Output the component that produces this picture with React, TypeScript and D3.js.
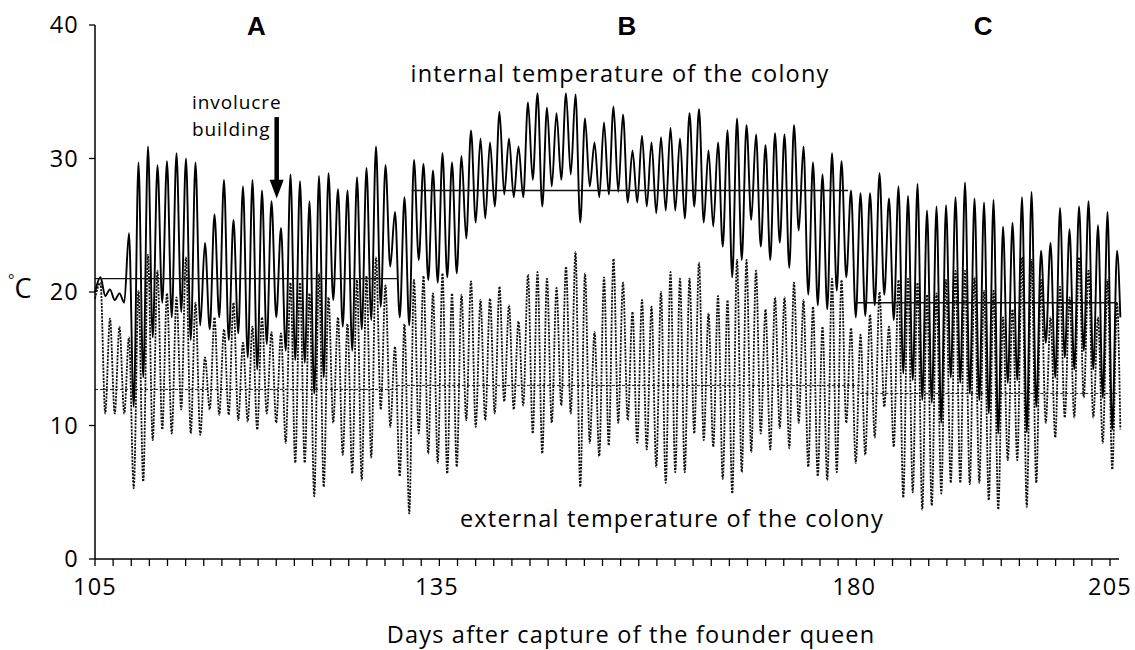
import React from 'react';
import * as d3 from 'd3';

// Daily maxima / minima (one value per cycle)
const internalPeaks = [
  21.1, 20.2, 19.9, 24.4, 29.7, 30.9, 29.5, 29.8, 30.4, 30.0,
  29.7, 23.7, 25.8, 28.4, 25.4, 27.9, 28.4, 27.6, 26.8, 24.8,
  28.8, 28.3, 26.8, 28.7, 28.9, 27.7, 27.6, 28.6, 29.3, 30.9,
  29.5, 26.0, 27.1, 29.9, 29.6, 29.1, 30.4, 29.7, 30.2, 32.1,
  31.5, 31.2, 33.5, 31.5, 30.9, 34.2, 34.9, 33.8, 33.4, 34.9,
  34.8, 33.0, 31.2, 32.7, 33.9, 33.3, 30.6, 31.7, 31.2, 31.6,
  32.3, 31.5, 33.4, 33.7, 30.6, 31.2, 32.1, 33.0, 32.5, 31.8,
  31.0, 31.9, 31.8, 32.5, 30.9, 29.7, 28.8, 30.4, 29.8, 27.6,
  27.4, 27.4, 28.9, 27.0, 27.9, 27.2, 28.1, 26.1, 26.4, 26.5,
  27.1, 28.2, 27.0, 26.7, 26.9, 24.9, 25.2, 27.1, 27.5, 23.1,
  23.7, 26.3, 24.7, 26.4, 26.8, 25.0, 26.0, 23.1
];
const internalTroughs = [
  19.7, 19.4, 19.2, 11.4, 13.6, 16.6, 19.2, 18.1, 18.5, 16.4,
  17.5, 17.2, 18.1, 16.4, 16.9, 15.1, 14.2, 16.1, 18.1, 15.6,
  14.9, 14.7, 12.4, 13.6, 19.4, 17.4, 15.6, 17.2, 17.9, 18.9,
  21.9, 18.1, 17.5, 22.4, 20.9, 20.7, 21.1, 21.4, 24.0, 25.2,
  25.5, 26.4, 27.3, 27.1, 27.1, 28.4, 26.4, 27.9, 28.4, 28.8,
  25.2, 27.9, 27.1, 27.3, 27.5, 26.7, 26.7, 26.4, 25.9, 26.1,
  26.1, 25.5, 26.4, 25.2, 24.9, 23.4, 21.1, 22.4, 25.4, 23.4,
  22.4, 23.7, 21.8, 24.6, 19.8, 19.0, 18.7, 20.1, 21.1, 18.1,
  18.2, 19.0, 19.8, 17.9, 13.9, 13.4, 11.9, 11.7, 10.2, 13.6,
  13.2, 12.4, 11.9, 10.9, 9.4, 13.2, 13.4, 9.5, 11.4, 16.2,
  13.6, 15.1, 14.2, 15.6, 14.2, 12.1, 9.7
];
const externalPeaks = [
  20.7, 18.0, 17.4, 16.6, 20.1, 22.8, 21.6, 19.9, 19.6, 22.6,
  19.2, 15.1, 18.1, 17.2, 19.2, 16.2, 17.4, 18.1, 17.0, 16.9,
  20.7, 20.7, 19.9, 21.4, 19.6, 18.1, 17.6, 20.9, 21.2, 22.6,
  20.5, 15.9, 17.6, 20.9, 21.2, 19.9, 21.4, 19.9, 19.8, 20.8,
  19.4, 19.5, 20.4, 19.0, 17.8, 21.3, 21.5, 21.0, 20.3, 21.9,
  23.0, 21.4, 17.0, 21.1, 22.5, 20.7, 18.5, 19.4, 18.9, 20.0,
  21.5, 21.0, 21.0, 22.2, 18.4, 19.7, 19.4, 22.4, 22.4, 21.6,
  18.7, 19.6, 19.6, 20.7, 19.4, 18.9, 17.4, 21.0, 20.9, 17.3,
  16.8, 18.3, 20.0, 17.4, 20.9, 21.0, 20.7, 19.8, 19.9, 20.9,
  21.6, 21.6, 21.1, 20.1, 20.1, 18.1, 18.7, 22.6, 22.4, 20.9,
  18.1, 20.4, 19.6, 22.6, 21.6, 18.1, 20.9, 19.2
];
const externalTroughs = [
  10.9, 10.9, 10.9, 5.3, 5.8, 8.9, 9.7, 9.4, 11.2, 9.4,
  9.3, 11.2, 10.8, 10.8, 10.4, 10.3, 9.7, 10.9, 10.2, 8.7,
  7.2, 7.2, 4.7, 5.4, 10.2, 7.8, 6.4, 5.9, 7.6, 11.2,
  9.9, 6.2, 3.4, 9.4, 7.9, 7.2, 6.4, 6.9, 10.4, 9.9,
  10.4, 10.9, 11.8, 11.2, 11.5, 9.4, 7.9, 10.2, 11.5, 10.9,
  5.4, 8.7, 7.7, 8.5, 10.2, 10.4, 8.7, 8.2, 6.9, 5.7,
  6.5, 6.5, 9.4, 8.9, 8.4, 6.0, 4.9, 6.5, 8.0, 9.4,
  8.2, 9.8, 8.3, 10.2, 6.9, 6.2, 5.9, 6.5, 10.2, 7.2,
  7.8, 9.1, 11.4, 8.4, 4.6, 5.0, 3.7, 4.0, 4.9, 5.7,
  5.7, 5.6, 5.7, 4.4, 3.7, 7.4, 7.4, 3.9, 5.7, 10.2,
  9.1, 10.6, 10.6, 12.1, 10.6, 8.7, 6.7
];
const internalEnds = [20.0, 18.1];
const externalEnds = [19.5, 9.7];

// phase means (A, B, C)
const internalMeans = [
  { from: 105, to: 134.75, v: 21.0 },
  { from: 136.2, to: 179.2, v: 27.6 },
  { from: 179.9, to: 205.7, v: 19.2 }
];
const externalMeans = [
  { from: 105, to: 134.75, v: 12.7 },
  { from: 134.75, to: 180.4, v: 13.0 },
  { from: 180.4, to: 205.7, v: 12.4 }
];

const phases = [
  { label: 'A', day: 120.9 },
  { label: 'B', day: 157.4 },
  { label: 'C', day: 192.5 }
];

// the figure's day labels do not sit on a linear axis; these are where they are printed
const xTickLabels = [
  { day: 105, label: '105' },
  { day: 138.7, label: '135' },
  { day: 179.8, label: '180' },
  { day: 205, label: '205' }
];
const yTicks = [0, 10, 20, 30, 40];

const firstPeakDay = 105.54;
const cycleDays = 0.936;

const W = 1135;
const H = 650;
const FONT = "'Open Sans', 'DejaVu Sans', sans-serif";
const LS = 1.2; // the figure's text is set a little loose

const x = d3.scaleLinear().domain([105, 205]).range([95, 1110]);
const y = d3.scaleLinear().domain([0, 40]).range([559, 25]);

function buildSeries(peaks: number[], troughs: number[], ends: number[]) {
  const pts: { day: number; v: number }[] = [{ day: 105, v: ends[0] }];
  peaks.forEach((p, i) => {
    pts.push({ day: firstPeakDay + i * cycleDays, v: p });
    if (i < troughs.length) pts.push({ day: firstPeakDay + (i + 0.5) * cycleDays, v: troughs[i] });
  });
  pts.push({ day: firstPeakDay + (peaks.length - 0.65) * cycleDays, v: ends[1] });
  return pts;
}

const internal = buildSeries(internalPeaks, internalTroughs, internalEnds);
const external = buildSeries(externalPeaks, externalTroughs, externalEnds);

const line = d3.line<{ day: number; v: number }>()
  .x(d => x(d.day))
  .y(d => y(d.v))
  .curve(d3.curveMonotoneX);

const minorTicks = d3.range(0, 57).map(i => 105 + (i * 100) / 56);

export default function App() {
  const arrowX = x(122.9);
  return (
    <svg width={W} height={H} style={{ position: 'absolute', left: 0, top: 0, background: '#fff' }}>
      {/* external (dotted) */}
      <path d={line(external) || ''} fill="none" stroke="#111" strokeWidth={1.8} strokeDasharray="2.2,1.2" />
      {/* internal (solid) */}
      <path d={line(internal) || ''} fill="none" stroke="#000" strokeWidth={1.9} />

      {externalMeans.map((m, i) => (
        <line key={'em' + i} x1={x(m.from)} x2={x(m.to)} y1={y(m.v)} y2={y(m.v)}
          stroke="#222" strokeWidth={1} strokeDasharray="3,2" />
      ))}
      {internalMeans.map((m, i) => (
        <line key={'im' + i} x1={x(m.from)} x2={x(m.to)} y1={y(m.v)} y2={y(m.v)}
          stroke="#111" strokeWidth={1.4} />
      ))}

      {/* axes */}
      <line x1={x(105)} x2={x(105)} y1={y(40)} y2={y(0)} stroke="#000" strokeWidth={1.5} />
      <line x1={x(105)} x2={1119} y1={y(0)} y2={y(0)} stroke="#000" strokeWidth={1.5} />
      {yTicks.map(t => (
        <g key={'y' + t}>
          <line x1={x(105) - 6} x2={x(105)} y1={y(t)} y2={y(t)} stroke="#000" strokeWidth={1.3} />
          <text x={79} y={y(t)} dy="0.36em" textAnchor="end" fontFamily={FONT} fontSize={23.5}
            letterSpacing={LS}>{t}</text>
        </g>
      ))}
      {minorTicks.map((d, i) => (
        <line key={'xt' + i} x1={x(d)} x2={x(d)} y1={y(0)} y2={y(0) + 7} stroke="#000" strokeWidth={1.3} />
      ))}
      {xTickLabels.map(t => (
        <text key={t.label} x={x(t.day)} y={595} textAnchor="middle" fontFamily={FONT} fontSize={23.5}
          letterSpacing={LS}>{t.label}</text>
      ))}
      <text x={631} y={643} textAnchor="middle" fontFamily={FONT} fontSize={23.5} letterSpacing={LS}>
        Days after capture of the founder queen
      </text>

      <text x={8} y={298} fontFamily={FONT} fontSize={27}>
        <tspan fontSize={15} baselineShift="85%">°</tspan>
        <tspan>C</tspan>
      </text>

      {phases.map(p => (
        <text key={p.label} x={x(p.day)} y={35} textAnchor="middle" fontFamily="'Liberation Sans', Arial, sans-serif"
          fontWeight="bold" fontSize={26}>{p.label}</text>
      ))}

      <text x={620} y={82} textAnchor="middle" fontFamily={FONT} fontSize={23.5} letterSpacing={LS}>
        internal temperature of the colony
      </text>
      <text x={672} y={527} textAnchor="middle" fontFamily={FONT} fontSize={23.5} letterSpacing={LS}>
        external temperature of the colony
      </text>

      <text x={192} y={109} fontFamily={FONT} fontSize={19} letterSpacing={0.9}>involucre</text>
      <text x={192} y={136} fontFamily={FONT} fontSize={19} letterSpacing={0.9}>building</text>
      <line x1={arrowX} x2={arrowX} y1={y(33.1)} y2={y(28.0)} stroke="#000" strokeWidth={4.5} />
      <path d={`M${arrowX - 7},${y(28.4)} L${arrowX + 7},${y(28.4)} L${arrowX},${y(27.0)} Z`} fill="#000" />
    </svg>
  );
}
